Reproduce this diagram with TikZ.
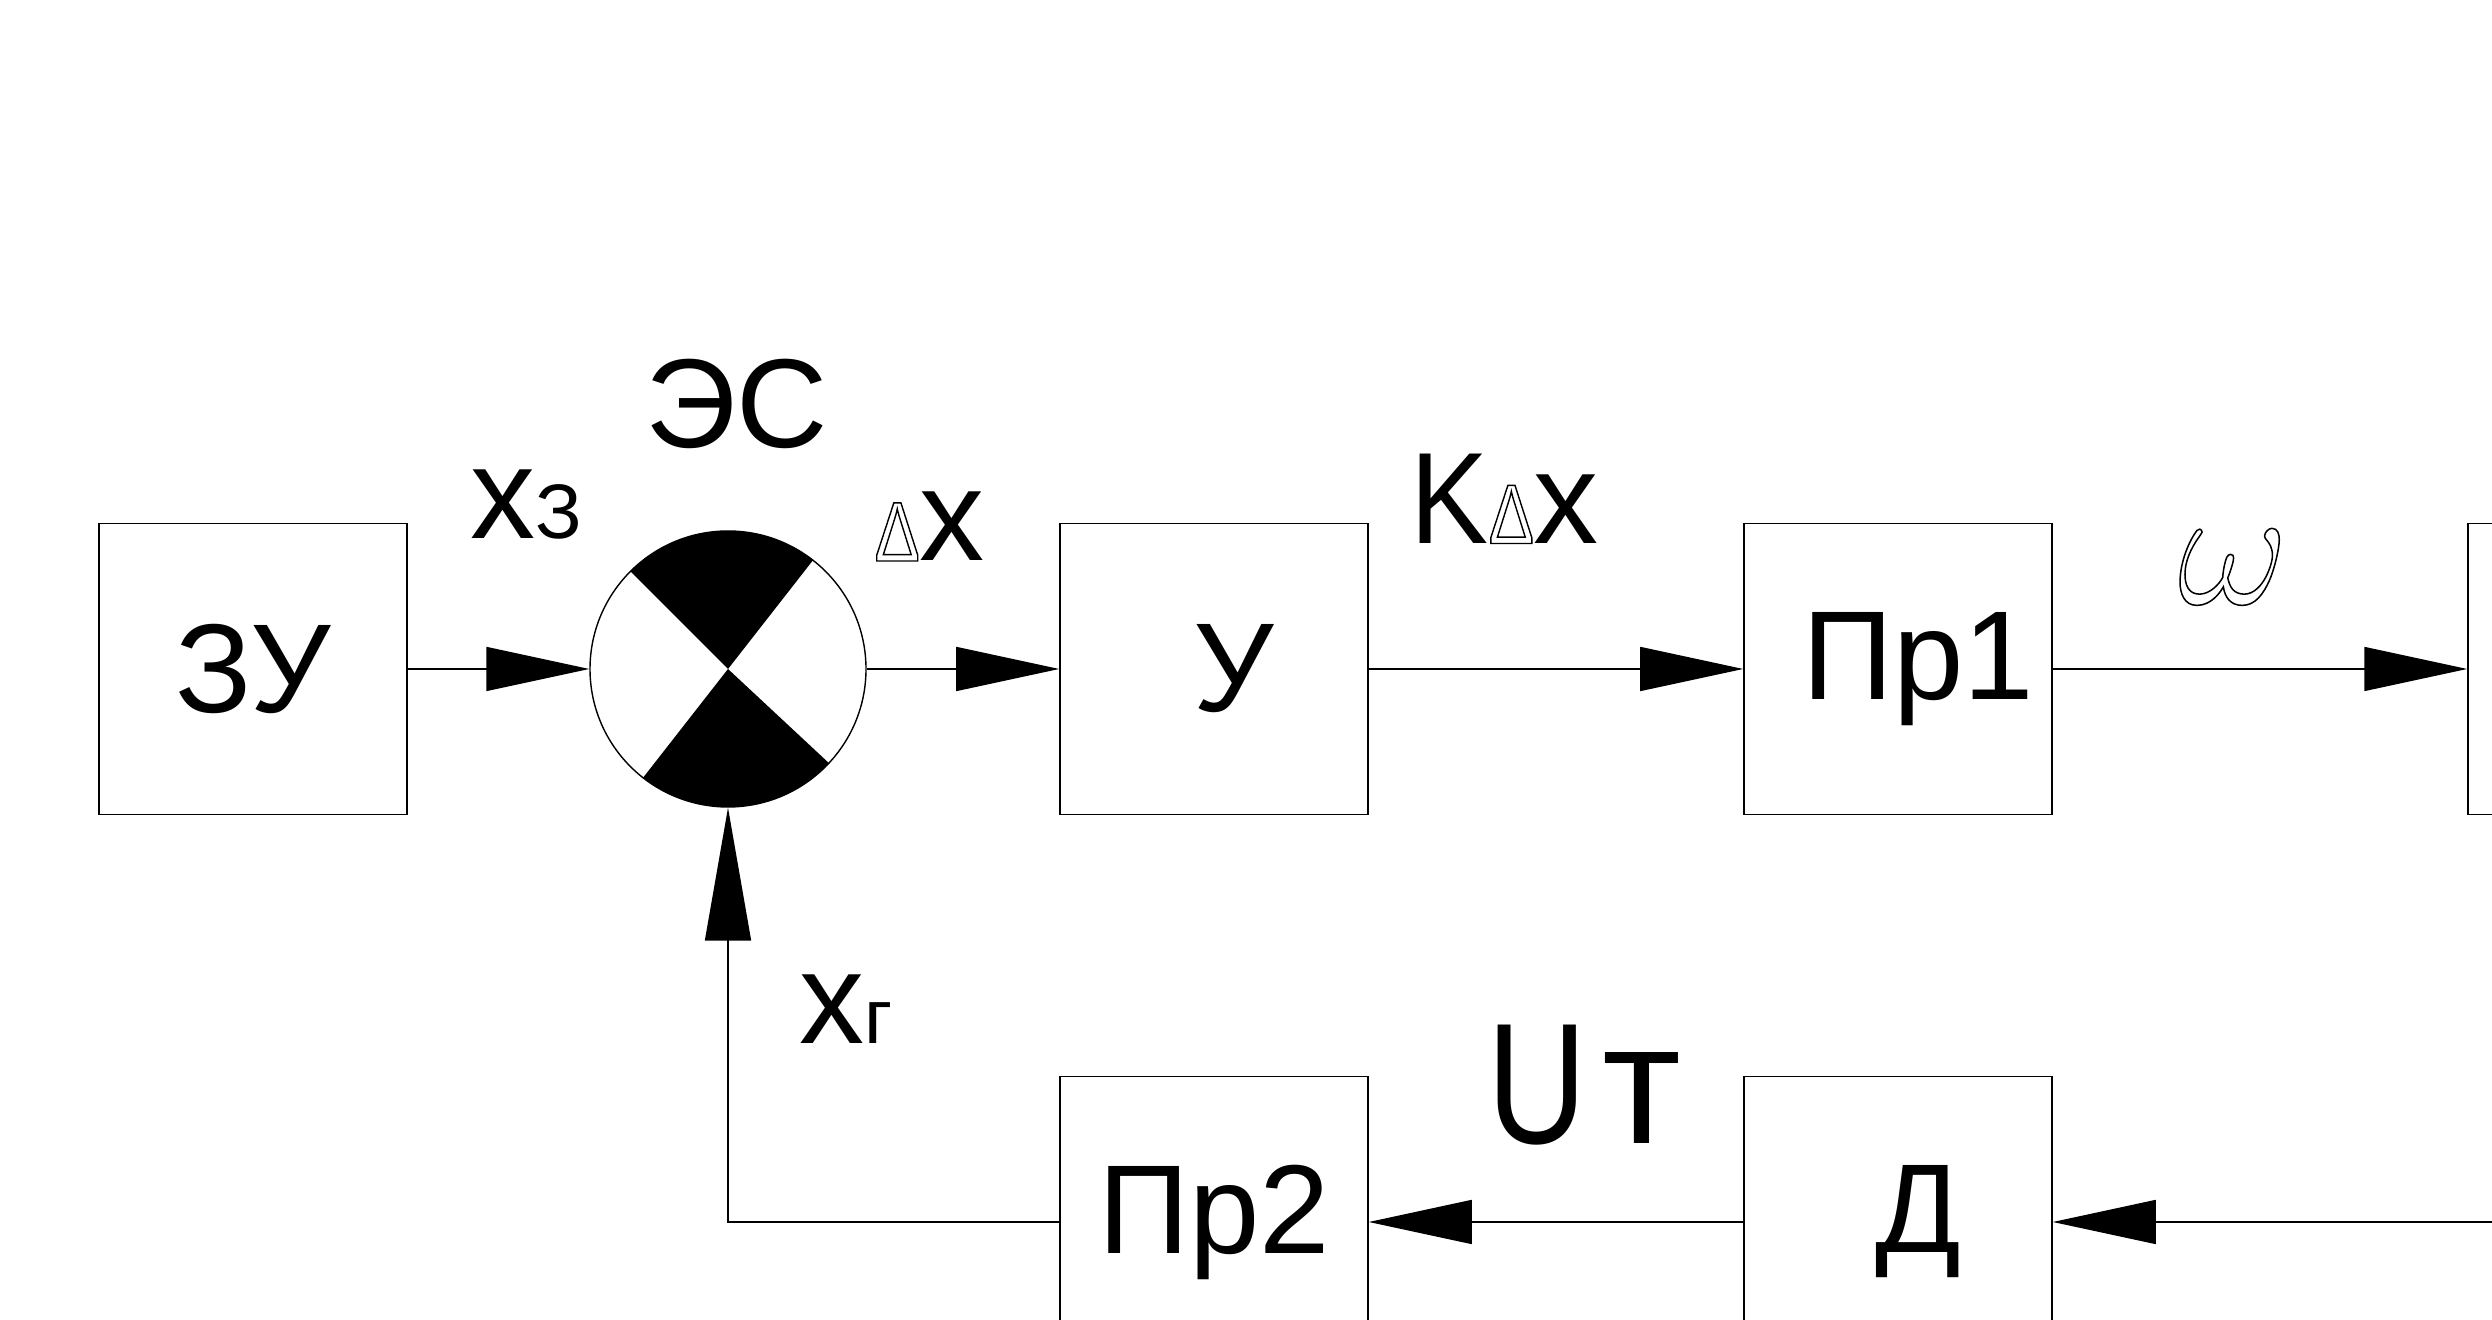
\documentclass[tikz,border=0pt]{standalone}
\usepackage{fontspec}
\setmainfont{Liberation Sans}
\newfontfamily\narrowfont[FakeStretch=0.8]{Liberation Sans}
\newfontfamily\uzkii[FakeStretch=0.8]{Liberation Sans}
\newfontfamily\kfont[FakeStretch=0.9]{Liberation Sans}
\usetikzlibrary{arrows.meta}
\newcommand{\kontur}[2][0.4]{\special{pdf:literal direct 1 Tr #1 w}#2\special{pdf:literal direct 0 Tr}}

\begin{document}
\begin{tikzpicture}[
    blok/.style={draw, line width=0.45pt, minimum width=3.08cm, minimum height=2.91cm, inner sep=0pt, font=\fontsize{36}{36}\selectfont},
    strel/.style={line width=0.45pt, -{Triangle[length=1.03cm, width=0.44cm]}},
    metka/.style={inner sep=0pt, anchor=base west}]
        \useasboundingbox (0,0) rectangle (24.92,13.2);
        %verkhnii riad
        \node[blok] (zu) at (2.53,6.51) {ЗУ};
        \node[draw, circle, line width=0.4pt, minimum size=2.76cm, inner sep=0pt] (es) at (7.28,6.51) {};
        \fill (es.center) -- ++(52:1.38) arc[start angle=52, end angle=135, radius=1.38] -- cycle;
        \fill (es.center) -- ++(232:1.38) arc[start angle=232, end angle=317, radius=1.38] -- cycle;
        \node[blok] (u) at (12.14,6.51) {\hspace*{0.4cm}У};
        \node[blok] (pr1) at (18.98,6.51) {\hspace*{0.4cm}Пр1};
        \node[blok] (dv) at (26.22,6.51) {};
        %nizhnii riad
        \node[blok] (pr2) at (12.14,0.98) {Пр2};
        \node[blok] (d) at (18.98,0.98) {\hspace*{0.4cm}Д};
        \coordinate (vh) at (25.4,0.98);

        \draw[strel] (zu) -- (es);
        \draw[strel] (es) -- (u);
        \draw[strel] (u) -- (pr1);
        \draw[strel] (pr1) -- (dv);
        \draw[strel] (vh) -- (d);
        \draw[strel] (d) -- (pr2);
        \draw[line width=0.45pt, -{Triangle[length=1.33cm, width=0.46cm]}] (pr2.west) -| (es.south);

        %podpisi
        \node[metka, anchor=base, font=\fontsize{36}{36}\selectfont] (es-t) at (7.37,8.72) {ЭС};
        \node[metka] (xz) at (4.70,7.81) {\fontsize{37}{37}\selectfont x\fontsize{22}{22}\selectfont З};
        \node[metka] (dx) at (8.74,7.59) {{\narrowfont\fontsize{24}{24}\selectfont\kontur{Δ}}\fontsize{37}{37}\selectfont x};
        \node[metka] (kdx) at (14.10,7.765) {\fontsize{37}{37}\selectfont{\kfont K}{\narrowfont\fontsize{24}{24}\selectfont\kontur{Δ}}x};
        \node[inner sep=0pt, scale=1.95] (om) at (22.33,7.53) {\fontsize{24.88}{25}\selectfont\kontur[0.22]{$\omega$}};
        \node[metka] (xg) at (7.99,2.76) {\fontsize{37}{37}\selectfont x\fontsize{22}{22}\selectfont г};
        \node[metka] (ut) at (14.87,1.76) {\fontsize{49}{49}\selectfont{\uzkii U}\hspace{0.15cm}т};
\end{tikzpicture}
\end{document}
